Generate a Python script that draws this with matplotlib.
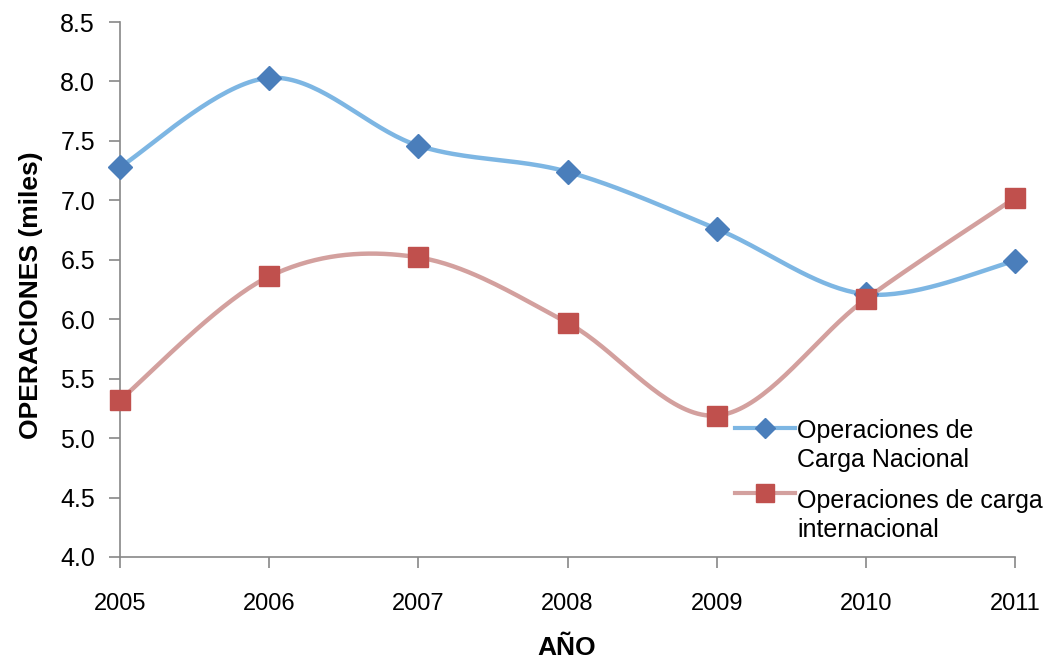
import numpy as np
import matplotlib.pyplot as plt
from matplotlib.lines import Line2D

# datos
anios = [2005, 2006, 2007, 2008, 2009, 2010, 2011]
carga_nacional = [7.28, 8.03, 7.46, 7.24, 6.76, 6.21, 6.49]
carga_internacional = [5.32, 6.36, 6.52, 5.97, 5.19, 6.17, 7.02]
etiquetas = ['Operaciones de\nCarga Nacional', 'Operaciones de carga\ninternacional']

plt.rcParams['font.family'] = ['Liberation Sans', 'DejaVu Sans']


def suavizar(x, y, n=40):
    # curva tipo Excel: Catmull-Rom pasada a Bezier cubica
    x = np.asarray(x, float)
    y = np.asarray(y, float)
    px = np.concatenate([[x[0]], x, [x[-1]]])
    py = np.concatenate([[y[0]], y, [y[-1]]])
    xs, ys = [], []
    t = np.linspace(0, 1, n)
    for i in range(1, len(px) - 2):
        p0 = np.array([px[i], py[i]])
        p3 = np.array([px[i + 1], py[i + 1]])
        c1 = p0 + (np.array([px[i + 1], py[i + 1]]) - np.array([px[i - 1], py[i - 1]])) / 6
        c2 = p3 - (np.array([px[i + 2], py[i + 2]]) - np.array([px[i], py[i]])) / 6
        b = ((1 - t) ** 3)[:, None] * p0 + (3 * (1 - t) ** 2 * t)[:, None] * c1 \
            + (3 * (1 - t) * t ** 2)[:, None] * c2 + (t ** 3)[:, None] * p3
        xs.extend(b[:, 0])
        ys.extend(b[:, 1])
    return xs, ys


W, H = 1053, 662
fig = plt.figure(figsize=(W / 100, H / 100), dpi=100)
ax = fig.add_axes([120 / W, 1 - 557 / H, (1015 - 120) / W, (557 - 22) / H])

azul_linea, azul_marca = '#7db6e3', '#4a7ebb'
rojo_linea, rojo_marca = '#d3a09e', '#c0504d'

sx, sy = suavizar(anios, carga_nacional)
ax.plot(sx, sy, color=azul_linea, lw=3.2, solid_capstyle='round', zorder=2, clip_on=False)
ax.plot(anios, carga_nacional, ls='none', marker='D', ms=12, color=azul_marca,
        zorder=3, clip_on=False)

sx, sy = suavizar(anios, carga_internacional)
ax.plot(sx, sy, color=rojo_linea, lw=3.2, solid_capstyle='round', zorder=2, clip_on=False)
ax.plot(anios, carga_internacional, ls='none', marker='s', ms=15, color=rojo_marca,
        zorder=3, clip_on=False)

ax.set_xlim(2005, 2011)
ax.set_ylim(4.0, 8.5)
ax.set_xticks(anios)
ax.set_xticklabels([str(a) for a in anios], fontsize=17)
yt = np.arange(4.0, 8.51, 0.5)
ax.set_yticks(yt)
ax.set_yticklabels([f"{v:.1f}" for v in yt], fontsize=18)
ax.tick_params(axis='both', color='#888888', length=8, width=1.2, direction='out')
ax.tick_params(axis='x', pad=18)
ax.tick_params(axis='y', pad=10)

for s in ['top', 'right']:
    ax.spines[s].set_visible(False)
for s in ['left', 'bottom']:
    ax.spines[s].set_color('#888888')
    ax.spines[s].set_linewidth(1.2)

# titulos de ejes en posicion fija
fig.text(567 / W, 1 - 648 / H, 'AÑO', fontsize=19, fontweight='bold', ha='center', va='center')
fig.text(31 / W, 1 - 295 / H, 'OPERACIONES (miles)', fontsize=19, fontweight='bold',
         rotation=90, ha='center', va='center')

# leyenda dibujada a mano (el marcador va a la altura de la primera linea)
leyenda = [(azul_linea, azul_marca, 'D', 10, 428, 419),
           (rojo_linea, rojo_marca, 's', 13, 493, 489)]
for (cl, cm, mk, ms, yh, yt_), txt in zip(leyenda, etiquetas):
    fig.add_artist(Line2D([735 / W, 795 / W], [1 - yh / H, 1 - yh / H], color=cl, lw=3,
                          transform=fig.transFigure))
    fig.add_artist(Line2D([765 / W], [1 - yh / H], marker=mk, ms=ms, color=cm,
                          transform=fig.transFigure))
    fig.text(797 / W, 1 - yt_ / H, txt, fontsize=18, va='top', ha='left', linespacing=1.25)

fig.savefig('out.png', dpi=100)
